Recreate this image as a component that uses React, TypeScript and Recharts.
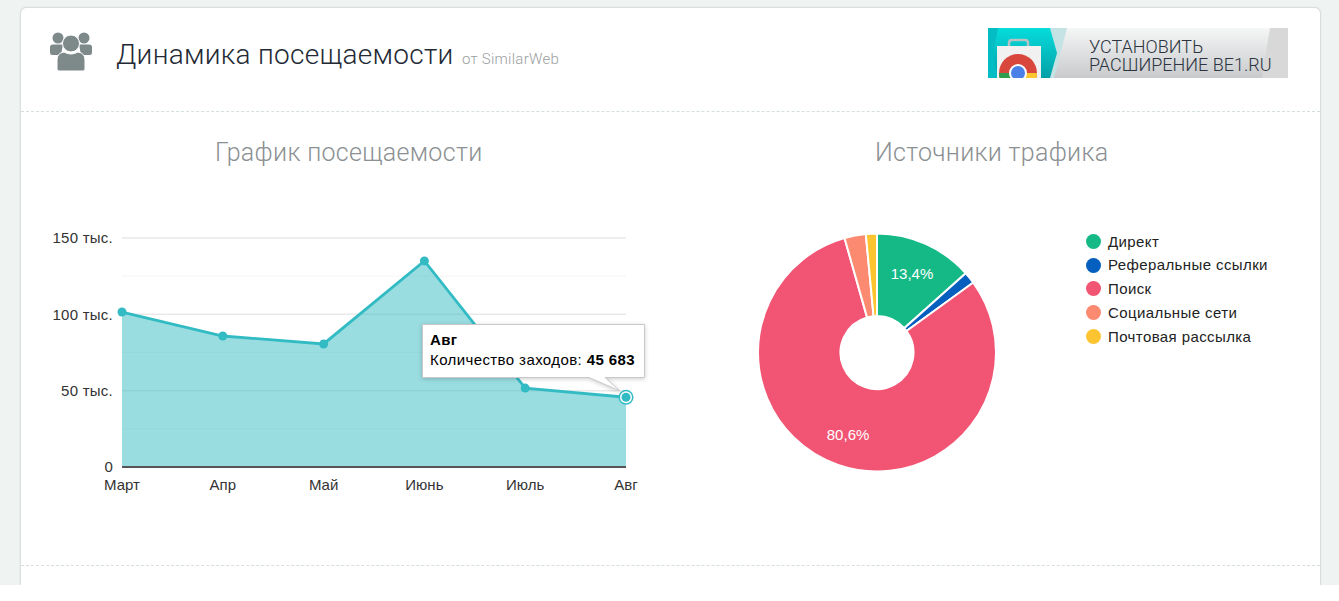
import React from "react";
import { AreaChart, Area, XAxis, YAxis, CartesianGrid, Tooltip, PieChart, Pie, Cell, Legend } from "recharts";

const months = ["Март", "Апр", "Май", "Июнь", "Июль", "Авг"];
const visits = [101500, 85800, 80600, 135000, 51700, 45683];
const majorTicks = [0, 50000, 100000, 150000];
const minorTicks = [25000, 75000, 125000];
const sourceNames = ["Директ", "Реферальные ссылки", "Поиск", "Социальные сети", "Почтовая рассылка"];
const sourceShares = [13.4, 1.6, 80.6, 2.9, 1.5];
const sourceColors = ["#14b986", "#045fbf", "#f25574", "#fb8a70", "#fdc431"];

const TEAL = "#33bbc4";
const SANS = "'Liberation Sans', Arial, sans-serif";
const areaData = months.map((m, i) => ({ month: m, visits: visits[i] }));
const pieData = sourceNames.map((n, i) => ({ name: n, value: sourceShares[i] }));

const fmtY = (v: number) => (v === 0 ? "0" : `${v / 1000} тыс.`);
const fmtNum = (v: number) => String(v).replace(/\B(?=(\d{3})+$)/g, " ");

function Tip({ active, payload, label }: any) {
  if (!active || !payload || !payload.length) return null;
  return (
    <div style={{ position: "relative", width: 223, height: 54, fontFamily: SANS, fontSize: 15, letterSpacing: 0.4, color: "#000" }}>
      <svg width={240} height={90} style={{ position: "absolute", left: 0, top: 0, overflow: "visible" }}>
        <path d="M0.5 0.5H222.5V53.5H183L198 67L167 53.5H0.5Z" fill="#fff" stroke="#c9c9c9" strokeWidth={1} style={{ filter: "drop-shadow(0 1px 2px rgba(0,0,0,0.2))" }} />
      </svg>
      <div style={{ position: "absolute", left: 8, top: 8, fontWeight: 700, whiteSpace: "nowrap", lineHeight: "16px" }}>{label}</div>
      <div style={{ position: "absolute", left: 8, top: 28, whiteSpace: "nowrap", lineHeight: "16px" }}>
        Количество заходов: <b>{fmtNum(payload[0].value)}</b>
      </div>
    </div>
  );
}

const ActiveDot = ({ cx, cy }: any) => (
  <g>
    <circle cx={cx} cy={cy} r={7.5} fill={TEAL} />
    <circle cx={cx} cy={cy} r={6} fill="#fff" />
    <circle cx={cx} cy={cy} r={4.5} fill={TEAL} />
  </g>
);

const RAD = Math.PI / 180;
const PieLabel = ({ cx, cy, midAngle, percent }: any) => {
  if (percent < 0.1) return null;
  const x = cx - 0.5 + 87 * Math.cos(-midAngle * RAD);
  const y = cy + 87 * Math.sin(-midAngle * RAD);
  return (
    <text x={x} y={y} fill="#fff" fontSize={15} textAnchor="middle" dominantBaseline="central" fontFamily={SANS}>
      {(percent * 100).toFixed(1).replace(".", ",")}%
    </text>
  );
};

const LegendBox = () => (
  <div style={{ fontFamily: SANS, fontSize: 15, letterSpacing: 0.4, color: "#222" }}>
    {sourceNames.map((n, i) => (
      <div key={n} style={{ position: "relative", height: 23.8, lineHeight: "23.8px", paddingLeft: 22, whiteSpace: "nowrap" }}>
        <span style={{ position: "absolute", left: 0, top: 4.4, width: 15, height: 15, borderRadius: "50%", background: sourceColors[i] }} />
        {n}
      </div>
    ))}
  </div>
);

const abs = (l: number, t: number, extra: React.CSSProperties = {}): React.CSSProperties => ({
  position: "absolute", left: l, top: t, whiteSpace: "nowrap", fontFamily: "Roboto, sans-serif", fontWeight: 300, ...extra,
});

function Banner() {
  return (
    <svg width={300} height={50} style={{ position: "absolute", left: 988, top: 28 }}>
      <defs>
        <linearGradient id="bg" x1="0" y1="0" x2="0" y2="1">
          <stop offset="0" stopColor="#f5f6f6" />
          <stop offset="1" stopColor="#c8cacc" />
        </linearGradient>
        <linearGradient id="tl" x1="0" y1="0" x2="0" y2="1">
          <stop offset="0" stopColor="#06dcdc" />
          <stop offset="1" stopColor="#02a0a6" />
        </linearGradient>
      </defs>
      <rect width={300} height={50} fill="url(#bg)" />
      <path d="M282 0H300V50H274Z" fill="#d8d8d8" />
      <path d="M0 0H79L66 50H0Z" fill="#c5e2e4" />
      <path d="M0 0H62L69 25L62 50H0Z" fill="url(#tl)" />
      <path d="M0 0H10L5 25L10 50H0Z" fill="#04bcc4" />
      <path d="M9 18H53V50H9Z" fill="#f1f1f1" />
      <path d="M21 18V15Q21 12 24 12H37Q40 12 40 15V18" fill="none" stroke="#b8c2c4" strokeWidth={2.5} />
      <clipPath id="cr"><rect width={300} height={50} /></clipPath>
      <g clipPath="url(#cr)">
        <circle cx={30} cy={45} r={19} fill="#d9463c" />
        <path d="M30 45L49 45A19 19 0 0 1 30 64Z" fill="#fbc62e" />
        <path d="M30 45V64A19 19 0 0 1 11 45Z" fill="#2c9e4e" />
        <circle cx={30} cy={45} r={9} fill="#fff" />
        <circle cx={30} cy={45} r={7} fill="#4a80e8" />
      </g>
      <text x={101} y={24.5} fontFamily="Roboto, sans-serif" fontWeight={300} fontSize={18} fill="#2c3440">УСТАНОВИТЬ</text>
      <text x={101} y={42.5} fontFamily="Roboto, sans-serif" fontWeight={300} fontSize={18} fill="#2c3440">РАСШИРЕНИЕ BE1.RU</text>
    </svg>
  );
}

function UsersIcon() {
  return (
    <svg width={44} height={42} viewBox="0 0 44 42" style={{ position: "absolute", left: 49, top: 31 }}>
      <g fill="#7e8a8a">
        <circle cx={9} cy={7} r={5.5} />
        <circle cx={35} cy={7} r={5.5} />
        <path d="M1 16Q1 13.5 4 13.5H14L12 24H3Q1 24 1 21Z" />
        <path d="M43 16Q43 13.5 40 13.5H30L32 24H41Q43 24 43 21Z" />
        <circle cx={22} cy={12.5} r={8.5} stroke="#fff" strokeWidth={1} />
        <path d="M8 38V29Q8 22 15 21Q22 25 29 21Q36 22 36 29V38Q36 40 34 40H10Q8 40 8 38Z" stroke="#fff" strokeWidth={1} />
      </g>
    </svg>
  );
}

export default function App() {
  return (
    <div style={{ position: "absolute", left: 0, top: 0, width: 1339, height: 601, background: "#fff", overflow: "hidden" }}>
      <div style={{ position: "absolute", left: 0, top: 0, width: 1339, height: 585, background: "#eff3f2", overflow: "hidden" }}>
        <div style={{ position: "absolute", left: 21, top: 8, width: 1299, height: 600, background: "#fff", borderRadius: 5, boxShadow: "0 0 2px rgba(90,110,110,0.55)" }} />
      </div>
      <div style={{ position: "absolute", left: 21, top: 111, width: 1299, borderTop: "1px dashed #d5dfdf" }} />
      <div style={{ position: "absolute", left: 21, top: 565, width: 1299, borderTop: "1px dashed #d5dfdf" }} />

      <UsersIcon />
      <div style={abs(116, 37, { fontSize: 28, letterSpacing: 0.3, lineHeight: "36px", color: "#232a35" })}>Динамика посещаемости</div>
      <div style={abs(462, 49, { fontSize: 15, letterSpacing: 0.25, lineHeight: "20px", color: "#9a9ea0" })}>от SimilarWeb</div>
      <Banner />
      <div style={abs(215, 137, { fontSize: 25, letterSpacing: 0.33, lineHeight: "32px", color: "#8b9092" })}>График посещаемости</div>
      <div style={abs(875, 137, { fontSize: 25, letterSpacing: 0.3, lineHeight: "32px", color: "#8b9092" })}>Источники трафика</div>

      <div style={{ position: "absolute", left: 0, top: 200 }}>
        <AreaChart width={680} height={310} data={areaData} margin={{ left: 52, right: 54, top: 38, bottom: 13 }}>
          <CartesianGrid vertical={false} horizontalValues={majorTicks} stroke="#e9e9e9" strokeWidth={1.5} />
          <CartesianGrid vertical={false} horizontalValues={minorTicks} stroke="#f4f4f4" strokeWidth={1} />
          <XAxis dataKey="month" interval={0} height={30} tickLine={false} axisLine={{ stroke: "#555", strokeWidth: 2 }} tick={{ fontSize: 15, fill: "#333", fontFamily: SANS }} tickMargin={6} />
          <YAxis width={70} domain={[0, 150000]} ticks={majorTicks} tickFormatter={fmtY} tickLine={false} axisLine={false} tickMargin={3} tick={{ fontSize: 15, fill: "#333", fontFamily: SANS, letterSpacing: 0.25 }} />
          <Tooltip defaultIndex={5} cursor={false} content={<Tip />} position={{ x: 422, y: 124 }} isAnimationActive={false} allowEscapeViewBox={{ x: true, y: true }} wrapperStyle={{ outline: "none", zIndex: 5 }} />
          <Area type="linear" dataKey="visits" stroke={TEAL} strokeWidth={2.8} fill={TEAL} fillOpacity={0.5} isAnimationActive={false}
            dot={{ r: 4.5, fill: TEAL, stroke: "none", fillOpacity: 1 }} activeDot={<ActiveDot />} />
        </AreaChart>
      </div>

      <div style={{ position: "absolute", left: 700, top: 200 }}>
        <PieChart width={620} height={310} margin={{ left: 0, right: 0, top: 0, bottom: 0 }}>
          <Pie data={pieData} dataKey="value" cx={177} cy={152.5} innerRadius={36.5} outerRadius={119} startAngle={90} endAngle={-270} stroke="#fff" strokeWidth={2} isAnimationActive={false} labelLine={false} label={<PieLabel />}>
            {pieData.map((d, i) => <Cell key={d.name} fill={sourceColors[i]} />)}
          </Pie>
          <Legend content={<LegendBox />} layout="vertical" wrapperStyle={{ position: "absolute", left: 386, top: 29.5, width: 220, bottom: "auto", right: "auto" }} />
        </PieChart>
      </div>
    </div>
  );
}
